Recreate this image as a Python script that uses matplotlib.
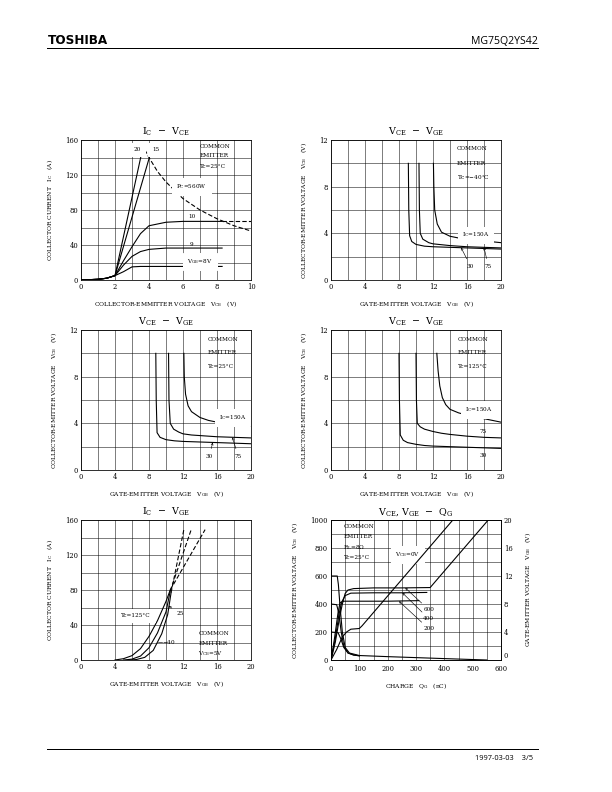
import matplotlib.pyplot as plt
from matplotlib.ticker import MultipleLocator

plt.rcParams.update({'font.family': 'DejaVu Serif', 'mathtext.fontset': 'dejavuserif',
                     'font.size': 6})

# IC - VCE, Tc = 25C
vce_out = [0, 1, 1.5, 2, 2.5, 3, 3.5, 4, 5, 6, 8.3]
ic_vge8 = [0, 0.8, 2, 5, 9.5, 15, 15.5, 15.5, 15.5, 15.5, 15.5]
ic_vge9 = [0, 0.8, 2, 5, 17, 27, 32.5, 35, 36.5, 36.5, 36.5]
ic_vge10 = [0, 0.8, 2, 5, 22, 38, 53, 62, 66, 67, 67]
vce_ext = [8.3, 10]
ic_vge10_ext = [67, 67]
vce_vge15 = [0, 1, 1.5, 2, 4.05]
ic_vge15 = [0, 0.8, 2, 5, 142]
vce_vge20 = [0, 1, 1.5, 2, 3.6]
ic_vge20 = [0, 0.8, 2, 5, 148]
vce_pc = [3.75, 4, 4.5, 5, 6, 7, 8, 9, 10]
ic_pc = [149, 140, 124, 112, 93, 80, 70, 62, 56]

# VCE - VGE, Tc = -40C
vge_m40_30 = [9.1, 9.15, 9.25, 9.5, 10, 11, 12, 14, 16, 18, 20]
vce_m40_30 = [10, 6, 3.8, 3.3, 3.05, 2.9, 2.85, 2.8, 2.75, 2.7, 2.65]
vge_m40_75 = [10.35, 10.4, 10.5, 10.8, 11.5, 12, 14, 16, 18, 20]
vce_m40_75 = [10, 6, 4.0, 3.5, 3.2, 3.1, 2.95, 2.85, 2.8, 2.75]
vge_m40_150 = [12.05, 12.1, 12.2, 12.5, 13, 14, 15, 16, 18, 20]
vce_m40_150 = [10, 8, 6, 4.8, 4.1, 3.75, 3.6, 3.5, 3.35, 3.2]

# VCE - VGE, Tc = 25C
vge_25_30 = [8.8, 8.85, 8.95, 9.3, 10, 11, 12, 14, 16, 18, 20]
vce_25_30 = [10, 6, 3.2, 2.8, 2.6, 2.5, 2.45, 2.4, 2.35, 2.3, 2.25]
vge_25_75 = [10.3, 10.35, 10.5, 10.9, 11.5, 12, 13, 14, 16, 18, 20]
vce_25_75 = [10, 6, 4.0, 3.5, 3.25, 3.1, 3.0, 2.95, 2.85, 2.8, 2.75]
vge_25_150 = [12.1, 12.15, 12.3, 12.6, 13, 14, 15, 16, 18, 20]
vce_25_150 = [10, 8, 6.5, 5.5, 5.0, 4.5, 4.25, 4.1, 3.9, 3.75]

# VCE - VGE, Tc = 125C
vge_125_30 = [8.0, 8.05, 8.15, 8.5, 9, 10, 11, 12, 14, 16, 18, 20]
vce_125_30 = [10, 6, 3, 2.55, 2.35, 2.2, 2.1, 2.05, 2.0, 1.95, 1.9, 1.85]
vge_125_75 = [10.0, 10.05, 10.15, 10.5, 11, 12, 13, 14, 16, 18, 20]
vce_125_75 = [10, 6, 4.0, 3.7, 3.5, 3.3, 3.15, 3.05, 2.9, 2.8, 2.75]
vge_125_150 = [12.45, 12.6, 12.8, 13.1, 13.5, 14, 15, 16, 18, 20]
vce_125_150 = [10, 8.5, 7.2, 6.2, 5.6, 5.2, 4.9, 4.7, 4.4, 4.1]

# IC - VGE, VCE = 5V
vge_t125 = [4.0, 5, 6, 7, 8, 9, 10, 10.5]
ic_t125 = [0, 1.5, 5, 13, 27, 45, 67, 80]
vge_t125_ext = [10.5, 14.6]
ic_t125_ext = [80, 149]
vge_t25 = [5.0, 6, 7, 8, 9, 10, 10.5]
ic_t25 = [0, 1, 4.5, 14, 31, 55, 79]
vge_t25_ext = [10.5, 13.0]
ic_t25_ext = [79, 150]
vge_tm40 = [5.7, 6.5, 7.5, 8.5, 9.5, 10.2, 10.6]
ic_tm40 = [0, 0.5, 3, 11, 30, 52, 77]
vge_tm40_ext = [10.6, 12.1]
ic_tm40_ext = [77, 149]

# VCE, VGE - QG
qg_vge600 = [0, 15, 30, 40, 50, 60, 80, 150, 250, 350, 555]
vge600 = [0, 2.5, 6, 8, 9.5, 10.0, 10.2, 10.3, 10.3, 10.35, 20]
qg_vge400 = [0, 15, 28, 38, 50, 70, 150, 250, 338]
vge400 = [0, 3, 6.5, 8.3, 9.2, 9.55, 9.6, 9.6, 9.65]
qg_vge200 = [0, 12, 25, 32, 45, 100, 200, 310]
vge200 = [0, 3, 6.8, 8.2, 8.4, 8.4, 8.4, 8.48]
qg_vge0 = [0, 20, 40, 55, 70, 100, 110, 430]
vge0 = [0, 1.5, 3.3, 4.0, 4.4, 4.5, 4.9, 20]
qg_vce600 = [0, 22, 26, 32, 40, 50, 65, 100, 200, 300, 400, 550]
vce600 = [600, 600, 540, 380, 200, 90, 50, 32, 24, 17, 10, 0]
qg_vce400 = [0, 20, 28, 36, 45, 60, 80, 100]
vce400 = [400, 395, 330, 200, 100, 50, 36, 30]
qg_vce200 = [0, 25, 35, 45, 60, 80, 100]
vce200 = [200, 195, 150, 90, 50, 35, 30]
vge_ticks = [0, 4, 8, 12, 16, 20]

IC_LABEL = r'COLLECTOR CURRENT   I$_{\mathrm{C}}$   (A)'
VCE_LABEL = r'COLLECTOR-EMITTER VOLTAGE   V$_{\mathrm{CE}}$   (V)'
VGE_XLABEL = r'GATE-EMITTER VOLTAGE   V$_{\mathrm{GE}}$   (V)'
VCE_TITLE = r'V$_{\mathrm{CE}}$  $-$  V$_{\mathrm{GE}}$'

fig = plt.figure(figsize=(8.5, 11), dpi=72)


def panel(left, top, xmax, ymax, xmaj, xmin, ymaj, ymin, title, xlabel, ylabel):
    ax = fig.add_axes([left / 612, 1 - (top + 140) / 792, 170 / 612, 140 / 792])
    ax.set_xlim(0, xmax)
    ax.set_ylim(0, ymax)
    ax.xaxis.set_major_locator(MultipleLocator(xmaj))
    ax.xaxis.set_minor_locator(MultipleLocator(xmin))
    ax.yaxis.set_major_locator(MultipleLocator(ymaj))
    ax.yaxis.set_minor_locator(MultipleLocator(ymin))
    ax.grid(which='both', color='black', lw=0.5)
    ax.tick_params(which='both', length=0, labelsize=6.8, pad=3)
    for s in ax.spines.values():
        s.set_linewidth(0.8)
    ax.set_title(title, fontsize=9.5, pad=5)
    ax.set_xlabel(xlabel, fontsize=6, labelpad=8)
    ax.set_ylabel(ylabel, fontsize=6, labelpad=10)
    return ax


def common(ax, x, ys, last):
    for t, y in zip(['COMMON', 'EMITTER', last], ys):
        ax.text(x, y, t, fontsize=5.8, va='center', ha='left')


def leader(ax, text, xy, xytext):
    ax.annotate(text, xy=xy, xytext=xytext, fontsize=5.8, ha='center', va='center',
                arrowprops=dict(arrowstyle='->', lw=0.6, mutation_scale=5, shrinkA=3, shrinkB=0))


# panel 1
ax = panel(81, 140, 10, 160, 2, 1, 40, 20, r'I$_{\mathrm{C}}$  $-$  V$_{\mathrm{CE}}$',
           r'COLLECTOR-EMMITTER VOLTAGE   V$_{\mathrm{CE}}$   (V)', IC_LABEL)
for y in [ic_vge8, ic_vge9, ic_vge10]:
    ax.plot(vce_out, y, color='black', lw=1.1)
ax.plot(vce_ext, ic_vge10_ext, color='black', lw=1.1, ls=(0, (4, 2)))
ax.plot(vce_vge15, ic_vge15, color='black', lw=1.1)
ax.plot(vce_vge20, ic_vge20, color='black', lw=1.1)
ax.plot(vce_pc, ic_pc, color='black', lw=1.1, ls=(0, (4, 2)))
ax.text(3.3, 149, '20', fontsize=5.8, ha='center', va='center', backgroundcolor='white')
ax.text(4.4, 149, '15', fontsize=5.8, ha='center', va='center', backgroundcolor='white')
ax.text(6.5, 107, r'P$_{\mathrm{C}}$=560W', fontsize=5.8, ha='center', va='center', backgroundcolor='white')
ax.text(6.5, 72, '10', fontsize=5.8, ha='center', va='center')
ax.text(6.5, 41, '9', fontsize=5.8, ha='center', va='center')
ax.text(7.0, 21, r'V$_{\mathrm{GE}}$=8V', fontsize=5.8, ha='center', va='center', backgroundcolor='white')
common(ax, 7.0, [152, 142, 130], r'Tc=25°C')

# panel 2
ax = panel(331, 140, 20, 12, 4, 2, 4, 2, VCE_TITLE, VGE_XLABEL, VCE_LABEL)
ax.plot(vge_m40_30, vce_m40_30, color='black', lw=1.1)
ax.plot(vge_m40_75, vce_m40_75, color='black', lw=1.1)
ax.plot(vge_m40_150, vce_m40_150, color='black', lw=1.1)
ax.text(17.0, 3.86, r'I$_{\mathrm{C}}$=150A', fontsize=5.8, ha='center', va='center', backgroundcolor='white')
leader(ax, '30', (15.3, 2.78), (16.4, 1.2))
leader(ax, '75', (18.0, 2.8), (18.5, 1.2))
common(ax, 14.8, [11.3, 10.0, 8.86], r'Tc=$-$40°C')

# panel 3
ax = panel(81, 330, 20, 12, 4, 2, 4, 2, VCE_TITLE, VGE_XLABEL, VCE_LABEL)
ax.plot(vge_25_30, vce_25_30, color='black', lw=1.1)
ax.plot(vge_25_75, vce_25_75, color='black', lw=1.1)
ax.plot(vge_25_150, vce_25_150, color='black', lw=1.1)
ax.text(17.8, 4.5, r'I$_{\mathrm{C}}$=150A', fontsize=5.8, ha='center', va='center', backgroundcolor='white')
leader(ax, '30', (15.5, 2.36), (15.1, 1.2))
leader(ax, '75', (17.8, 2.8), (18.5, 1.2))
common(ax, 14.9, [11.2, 10.06, 8.91], r'Tc=25°C')

# panel 4
ax = panel(331, 330, 20, 12, 4, 2, 4, 2, VCE_TITLE, VGE_XLABEL, VCE_LABEL)
ax.plot(vge_125_30, vce_125_30, color='black', lw=1.1)
ax.plot(vge_125_75, vce_125_75, color='black', lw=1.1)
ax.plot(vge_125_150, vce_125_150, color='black', lw=1.1)
ax.text(17.4, 5.2, r'I$_{\mathrm{C}}$=150A', fontsize=5.8, ha='center', va='center', backgroundcolor='white')
ax.text(17.9, 3.3, '75', fontsize=5.8, ha='center', va='center')
ax.text(17.9, 1.23, '30', fontsize=5.8, ha='center', va='center')
common(ax, 14.9, [11.2, 10.06, 8.91], r'Tc=125°C')

# panel 5
ax = panel(81, 520, 20, 160, 4, 2, 40, 20, r'I$_{\mathrm{C}}$  $-$  V$_{\mathrm{GE}}$',
           VGE_XLABEL, IC_LABEL)
ax.plot(vge_t125, ic_t125, color='black', lw=1.1)
ax.plot(vge_t25, ic_t25, color='black', lw=1.1)
ax.plot(vge_tm40, ic_tm40, color='black', lw=1.1)
ax.plot(vge_t125_ext, ic_t125_ext, color='black', lw=1.1, ls=(0, (4, 2)))
ax.plot(vge_t25_ext, ic_t25_ext, color='black', lw=1.1, ls=(0, (4, 2)))
ax.plot(vge_tm40_ext, ic_tm40_ext, color='black', lw=1.1, ls=(0, (4, 2)))
ax.text(6.5, 50.7, r'Tc=125°C', fontsize=5.8, ha='center', va='center', backgroundcolor='white')
leader(ax, '25', (10.3, 62), (11.65, 52.6))
ax.plot([9.0, 9.5], [21, 21], color='black', lw=0.6)
ax.text(9.5, 21, r'$-$40', fontsize=5.8, ha='left', va='center')
common(ax, 13.8, [30.5, 18.3, 6.9], r'V$_{\mathrm{CE}}$=5V')

# panel 6
ax = panel(331, 520, 600, 1000, 100, 50, 200, 100,
           r'V$_{\mathrm{CE}}$, V$_{\mathrm{GE}}$  $-$  Q$_{\mathrm{G}}$',
           r'CHARGE   Q$_{\mathrm{G}}$   (nC)', VCE_LABEL)
ax.tick_params(axis='x', pad=5)
ax2 = ax.twinx()
ax2.set_ylim(0, 20)
ax2.set_yticks(vge_ticks, [str(v) for v in vge_ticks])
ax2.get_yticklabels()[0].set_va('bottom')
ax2.tick_params(length=0, labelsize=6.8, pad=3)
ax2.set_ylabel(r'GATE-EMITTER VOLTAGE   V$_{\mathrm{GE}}$   (V)', fontsize=6, labelpad=10)
ax.plot(qg_vce600, vce600, color='black', lw=1.1)
ax.plot(qg_vce400, vce400, color='black', lw=1.1)
ax.plot(qg_vce200, vce200, color='black', lw=1.1)
ax2.plot(qg_vge600, vge600, color='black', lw=1.1)
ax2.plot(qg_vge400, vge400, color='black', lw=1.1)
ax2.plot(qg_vge200, vge200, color='black', lw=1.1)
ax2.plot(qg_vge0, vge0, color='black', lw=1.1)
ax.text(44, 955, 'COMMON', fontsize=5.8, va='center', ha='left')
ax.text(44, 880, 'EMITTER', fontsize=5.8, va='center', ha='left')
ax.text(44, 800, r'R$_{\mathrm{L}}$=8Ω', fontsize=5.8, va='center', ha='left')
ax.text(44, 735, r'Tc=25°C', fontsize=5.8, va='center', ha='left')
ax.text(270, 755, r'V$_{\mathrm{CE}}$=0V', fontsize=5.8, va='center', ha='center', backgroundcolor='white')
leader(ax, '600', (262, 515), (345, 360))
leader(ax, '400', (252, 480), (345, 295))
leader(ax, '200', (240, 420), (345, 223))

# page header / footer
fig.text(48 / 612, 1 - 44 / 792, 'TOSHIBA', family='DejaVu Sans', weight='bold', fontsize=12)
fig.text(538 / 612, 1 - 44 / 792, 'MG75Q2YS42', family='Open Sans', fontsize=10.5, ha='right')
fig.add_artist(plt.Line2D([47 / 612, 538 / 612], [1 - 48 / 792] * 2, color='black', lw=1))
fig.add_artist(plt.Line2D([47 / 612, 538 / 612], [1 - 749 / 792] * 2, color='black', lw=1))
fig.text(533 / 612, 1 - 758 / 792, '1997-03-03    3/5', family='Open Sans', fontsize=7.5,
         ha='right', va='center')

fig.savefig('out.png', dpi=72)
